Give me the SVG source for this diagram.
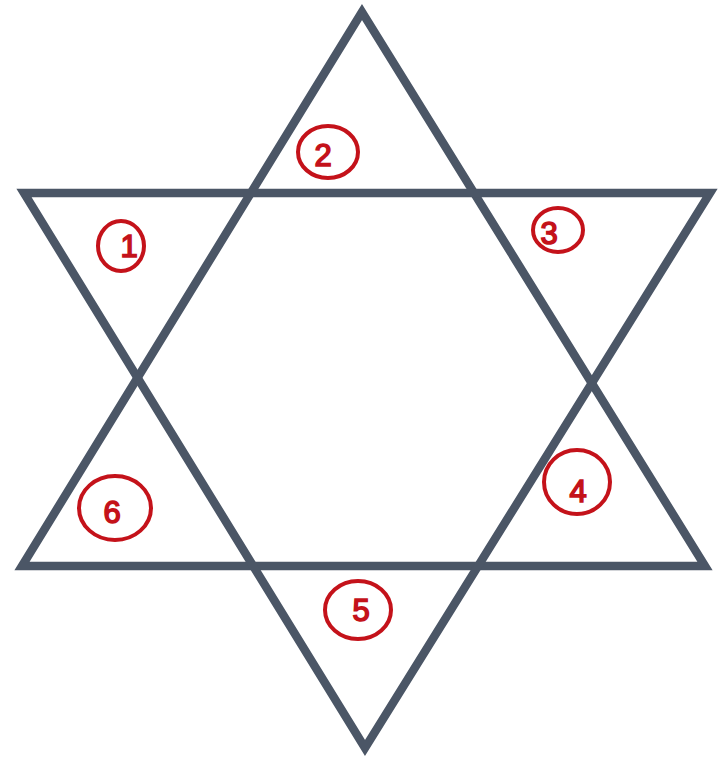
<svg xmlns="http://www.w3.org/2000/svg" width="726" height="761" viewBox="0 0 726 761">
<style>
.tri{fill:none;stroke:#4b5666;stroke-width:8.5;stroke-linejoin:miter;stroke-miterlimit:10}
.ring{fill:none;stroke:#c4121a;stroke-width:4;stroke-linecap:round}
.num{font-family:"Liberation Sans",Arial,sans-serif;font-size:31px;fill:#c4121a;stroke:#c4121a;stroke-width:1.6;text-anchor:middle}
</style>
<rect width="726" height="761" fill="#ffffff"/>
<g id="star">
<polygon id="tri-up" class="tri" points="362,12 22,566 705,566"/>
<polygon id="tri-down" class="tri" points="24,193 710,193 365,748"/>
</g>
<g id="label-1"><ellipse class="ring" cx="121" cy="246" rx="23" ry="25"/><text class="num" x="129" y="257">1</text></g>
<g id="label-2"><ellipse class="ring" cx="328" cy="152" rx="30" ry="26"/><text class="num" x="323" y="166">2</text></g>
<g id="label-3"><ellipse class="ring" cx="558" cy="230" rx="25" ry="22"/><text class="num" x="549" y="244">3</text></g>
<g id="label-4"><ellipse class="ring" cx="577" cy="482" rx="33" ry="32"/><text class="num" x="578" y="502">4</text></g>
<g id="label-5"><ellipse class="ring" cx="358" cy="610" rx="33" ry="29"/><text class="num" x="361" y="621">5</text></g>
<g id="label-6"><ellipse class="ring" cx="115" cy="508" rx="36" ry="32"/><text class="num" x="112" y="523">6</text></g>
</svg>
